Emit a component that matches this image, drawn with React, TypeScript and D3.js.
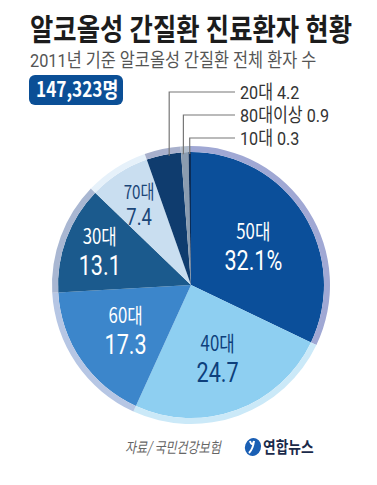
import React from "react";
import * as d3 from "d3";

const categories = ["50대", "40대", "60대", "30대", "70대", "20대", "80대이상", "10대"];
const values = [32.1, 24.7, 17.3, 13.1, 7.4, 4.2, 0.9, 0.3];
const valueLabels = ["32.1%", "24.7", "17.3", "13.1", "7.4", "4.2", "0.9", "0.3"];
const fills = ["#0b4f9a", "#8ecff1", "#3c86cb", "#1b5a8d", "#c9def0", "#0f3c6e", "#8a9cb0", "#0a2c58"];
const rings = ["#a0a8d4", "#cbe9f8", "#b6c6e4", "#a9b7d2", "#e6f1fa", "#a8b0cc", "#b4bfcc", "#9aa6c6"];
const labelColors = ["#ffffff", "#0d3f7c", "#ffffff", "#ffffff", "#1b4678", "#333", "#333", "#333"];

const title = "알코올성 간질환 진료환자 현황";
const subtitle = "2011년 기준 알코올성 간질환 전체 환자 수";
const total = "147,323명";
const source = "자료/ 국민건강보험";
const brand = "연합뉴스";

const W = 377, H = 485;
const cx = 191, cy = 285, R = 139, ringW = 6;
const FONT = "'Noto Sans CJK KR', 'Noto Sans', sans-serif";
const NUMFONT = "Roboto, 'Noto Sans CJK KR', sans-serif";

// inside label offsets (radius fraction) for large slices
const inner = [0.53, 0.56, 0.57, 0.7, 0.69];
const outsideY = [92, 115, 138];
const leaderFrac = [0.68, 0.35, 0.5];

export default function App() {
  const pie = d3.pie<number>().sort(null).value((d) => d)(values);
  const arcMain = d3.arc<d3.PieArcDatum<number>>().innerRadius(0).outerRadius(R - ringW);
  const arcRing = d3.arc<d3.PieArcDatum<number>>().innerRadius(R - ringW).outerRadius(R);

  return (
    <svg width={W} height={H} style={{ position: "absolute", left: 0, top: 0, background: "#fff" }} fontFamily={FONT}>
      <rect width={W} height={H} fill="#fff" />
      <g transform="translate(30,40) scale(0.845,1)">
        <text x={0} y={0} fontSize={30} fontWeight={700} fill="#1c1c1c" fontFamily={NUMFONT}>{title}</text>
      </g>
      <g transform="translate(30,67) scale(0.86,1)">
        <text x={0} y={0} fontSize={19} fill="#555" fontFamily={NUMFONT}>{subtitle}</text>
      </g>
      <rect x={29} y={75} width={94} height={30} rx={6} fill="#0b4f96" />
      <g transform="translate(36,97) scale(0.82,1)">
        <text x={0} y={0} fontSize={21} fontWeight={700} fill="#fff">{total}</text>
      </g>

      <g transform={`translate(${cx},${cy})`}>
        {pie.map((p, i) => (
          <g key={categories[i]}>
            <path d={arcMain(p) || ""} fill={fills[i]} />
            <path d={arcRing(p) || ""} fill={rings[i]} />
          </g>
        ))}
        {pie.slice(0, 5).map((p, i) => {
          const a = (p.startAngle + p.endAngle) / 2;
          const r = R * inner[i];
          const x = r * Math.sin(a);
          const y = -r * Math.cos(a);
          const small = i === 4;
          return (
            <g key={"l" + i} transform={`translate(${x},${y}) scale(0.8,1)`} fill={labelColors[i]} textAnchor="middle">
              <text x={0} y={small ? -5 : -7} fontSize={small ? 19 : 21}>{categories[i]}</text>
              <text x={0} y={small ? 21 : 24} fontSize={small ? 23 : 27} fontFamily={NUMFONT}>{valueLabels[i]}</text>
            </g>
          );
        })}
        {pie.slice(5).map((p, j) => {
          const i = j + 5;
          const a = p.startAngle + (p.endAngle - p.startAngle) * leaderFrac[j];
          const x = (R - 2) * Math.sin(a);
          const yEdge = -(R - 8) * Math.cos(a);
          const ly = outsideY[j] - cy;
          return (
            <g key={"o" + i}>
              <polyline points={`${x},${yEdge} ${x},${ly} ${235 - cx},${ly}`} fill="none" stroke="#777" strokeWidth={1.2} />
              <g transform={`translate(${240 - cx},${ly + 7}) scale(0.85,1)`}>
                <text x={0} y={0} fontSize={19} fill="#333" fontFamily={NUMFONT}>
                  {categories[i]} {valueLabels[i]}
                </text>
              </g>
            </g>
          );
        })}
      </g>

      <g transform="translate(125,453) scale(0.8,1)">
        <text x={0} y={0} fontSize={15} fill="#666" fontStyle="italic">{source}</text>
      </g>
      <ellipse cx={253} cy={447} rx={8} ry={9} fill="#1a5fb4" transform="rotate(20,253,447)" />
      <path d="M250,441 q2,6 4,0 M254,441 q-1,8 -5,12" stroke="#fff" strokeWidth={2} fill="none" />
      <g transform="translate(263,453) scale(0.86,1)">
        <text x={0} y={0} fontSize={16} fontWeight={700} fill="#1a2a4a">{brand}</text>
      </g>
    </svg>
  );
}
